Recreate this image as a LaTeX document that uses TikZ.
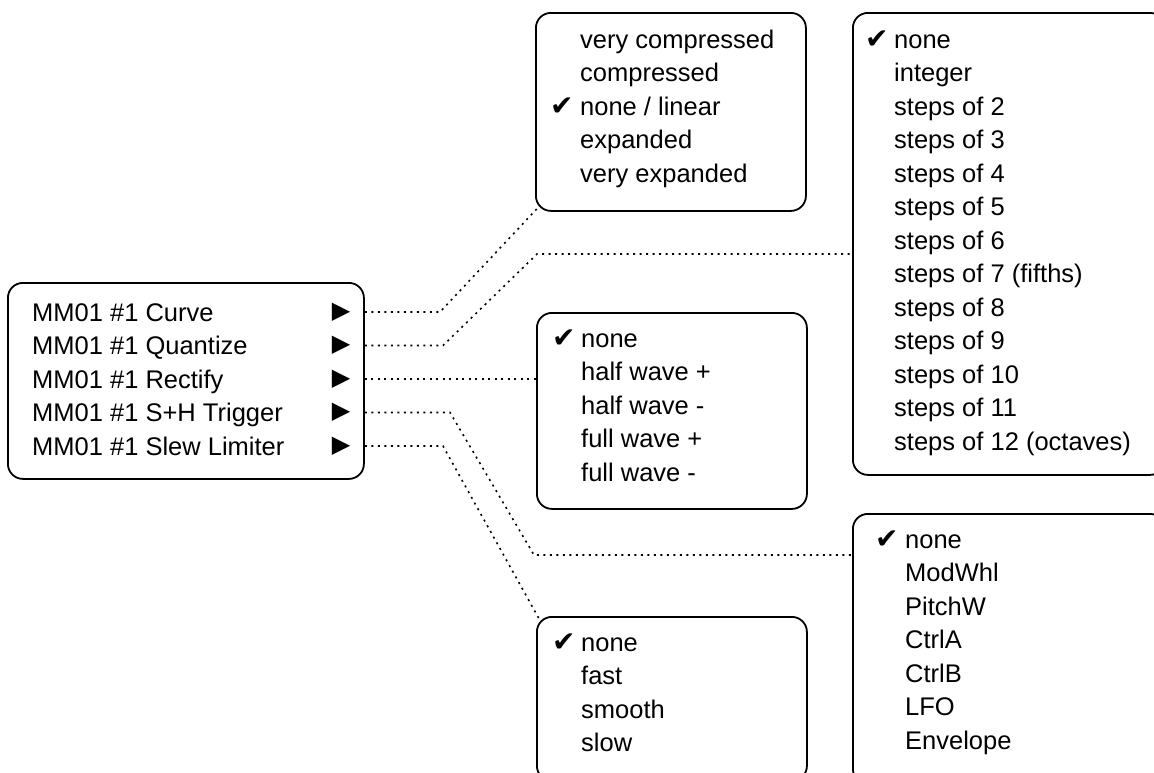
\documentclass[tikz,border=0pt]{standalone}
\usepackage{fontspec}
\setmainfont{Liberation Sans}
\newfontfamily\symfont{DejaVu Sans}
\begin{document}
\begin{tikzpicture}[x=1pt,y=-1pt,
  menubox/.style={draw, line width=1.8pt, rounded corners=15pt, inner sep=0pt, anchor=north west},
  item/.style={anchor=base west, inner sep=0pt, font=\fontsize{25.5}{30}\selectfont},
  tick/.style={anchor=base west, inner sep=0pt, font=\symfont\fontsize{28}{30}\selectfont},
  arrowglyph/.style={inner sep=0pt, font=\symfont\fontsize{24}{25}\selectfont},
  conn/.style={line width=1.6pt, dash pattern=on 2pt off 4.5pt}]
\useasboundingbox (0,0) rectangle (1154,772);
\clip (0,0) rectangle (1154,772);

% menu boxes
\node[menubox, minimum width=356pt, minimum height=196pt] (main) at (7,282) {};
\node[menubox, minimum width=270pt, minimum height=198pt] (b1) at (535,12) {};
\node[menubox, minimum width=312pt, minimum height=462pt] (b2) at (852,12) {};
\node[menubox, minimum width=270pt, minimum height=196pt] (b3) at (536,312) {};
\node[menubox, minimum width=312pt, minimum height=270pt] (b4) at (852,513) {};
\node[menubox, minimum width=270pt, minimum height=164pt] (b5) at (536,616) {};

% main menu
\foreach \t [count=\i] in {MM01 \#1 Curve, MM01 \#1 Quantize, MM01 \#1 Rectify, MM01 \#1 S+H Trigger, MM01 \#1 Slew Limiter} {
  \node[item] (m\i) at (32,{321+33.5*(\i-1)}) {\t};
  \node[arrowglyph] (t\i) at (341,{312+33.5*(\i-1)}) {▶};
}

% curve submenu
\foreach \t [count=\i] in {very compressed, compressed, none / linear, expanded, very expanded} {
  \node[item] (a\i) at (580,{48+33.5*(\i-1)}) {\t};
}
\node[tick] (ca) at (550,115) {✔};

% quantize submenu
\foreach \t [count=\i] in {none, integer, steps of 2, steps of 3, steps of 4, steps of 5, steps of 6, steps of 7 (fifths), steps of 8, steps of 9, steps of 10, steps of 11, steps of 12 (octaves)} {
  \node[item] (q\i) at (894,{48+33.5*(\i-1)}) {\t};
}
\node[tick] (cq) at (865,48) {✔};

% rectify submenu
\foreach \t [count=\i] in {none, half wave +, half wave -, full wave +, full wave -} {
  \node[item] (r\i) at (581,{347+33.5*(\i-1)}) {\t};
}
\node[tick] (cr) at (552,347) {✔};

% S+H trigger submenu
\foreach \t [count=\i] in {none, ModWhl, PitchW, CtrlA, CtrlB, LFO, Envelope} {
  \node[item] (s\i) at (905,{548+33.5*(\i-1)}) {\t};
}
\node[tick] (cs) at (875,548) {✔};

% slew limiter submenu
\foreach \t [count=\i] in {none, fast, smooth, slow} {
  \node[item] (l\i) at (581,{651+33.5*(\i-1)}) {\t};
}
\node[tick] (cl) at (552,651) {✔};

% connectors
\coordinate (k1) at (440,312);
\coordinate (e1) at (540,205.5);
\draw[conn] (main.east |- t1) -- (k1) -- (e1);

\coordinate (k2a) at (443,345.5);
\coordinate (k2b) at (537,254);
\draw[conn] (main.east |- t2) -- (k2a) -- (k2b) -- (b2.west |- k2b);

\draw[conn] (main.east |- t3) -- (b3.west |- t3);

\coordinate (k4a) at (450,412.5);
\coordinate (k4b) at (534,555);
\draw[conn] (main.east |- t4) -- (k4a) -- (k4b) -- (b4.west |- k4b);

\coordinate (k5) at (443,446);
\coordinate (e5) at (540,620.5);
\draw[conn] (main.east |- t5) -- (k5) -- (e5);
\end{tikzpicture}
\end{document}
